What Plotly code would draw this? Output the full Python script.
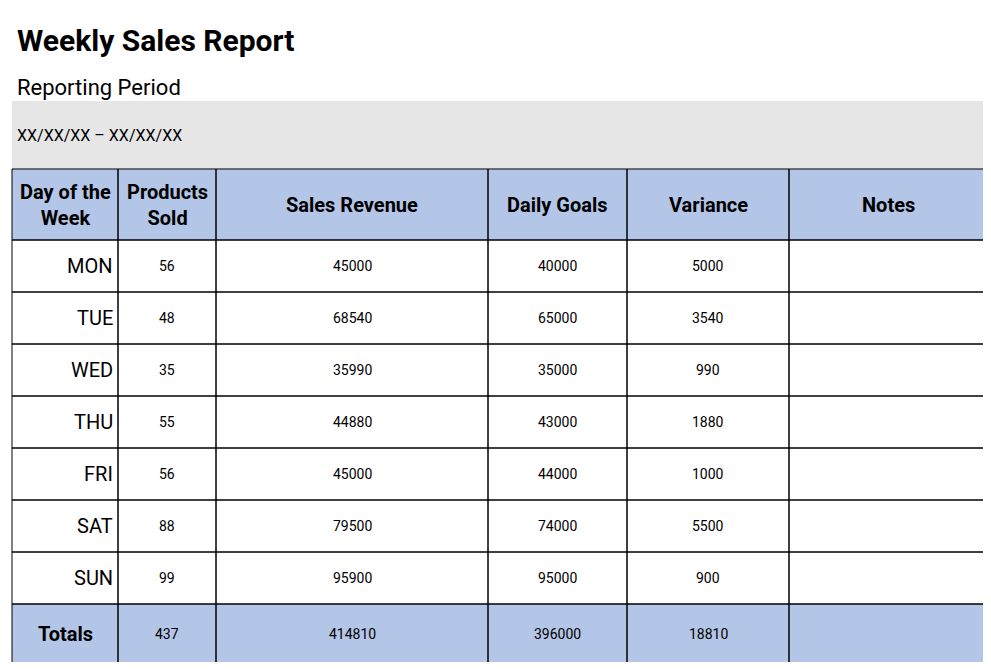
import plotly.graph_objects as go

days = ["MON", "TUE", "WED", "THU", "FRI", "SAT", "SUN"]
products = [56, 48, 35, 55, 56, 88, 99]
revenue = [45000, 68540, 35990, 44880, 45000, 79500, 95900]
goals = [40000, 65000, 35000, 43000, 44000, 74000, 95000]
variance = [5000, 3540, 990, 1880, 1000, 5500, 900]
headers = ["Day of the<br>Week", "Products<br>Sold", "Sales Revenue", "Daily Goals", "Variance", "Notes"]
totals = [437, 414810, 396000, 18810]

OFF = 8
W, H = 991 - 2 * OFF, 670 - 2 * OFF
colx = [12, 118, 216, 488, 627, 789, 987]
rowy = [169, 240, 292, 344, 396, 448, 500, 552, 604, 663]
BLUE = "#b4c6e7"
FONT = "Roboto"

shapes, ann = [], []
def rect(x0, y0, x1, y1, fill=None, lw=1):
    shapes.append(dict(type="rect", xref="x", yref="y", x0=x0, y0=y0, x1=x1, y1=y1,
                       fillcolor=fill if fill else "rgba(0,0,0,0)", line=dict(color="black", width=lw), layer="below" if fill else "above"))
def text(x, y, t, size, bold=False, anchor="center"):
    ann.append(dict(x=x, y=y, xref="x", yref="y", text=f"<b>{t}</b>" if bold else str(t), showarrow=False,
                    xanchor=anchor, yanchor="middle", font=dict(family=FONT, size=size, color="black")))

shapes.append(dict(type="rect", x0=colx[0], x1=colx[-1], y0=101, y1=169, fillcolor="#e6e6e6", line=dict(width=0), layer="below"))
text(15, 40, "Weekly Sales Report", 30, True, "left")
text(15, 87, "Reporting Period", 22, False, "left")
text(15, 135, "XX/XX/XX – XX/XX/XX", 16, False, "left")

rect(colx[0], rowy[0], colx[-1], rowy[1], BLUE, 0)
rect(colx[0], rowy[8], colx[-1], rowy[9], BLUE, 0)
for r in range(len(rowy) - 1):
    for c in range(len(colx) - 1):
        rect(colx[c], rowy[r], colx[c + 1], rowy[r + 1])
cx = [(colx[i] + colx[i + 1]) / 2 for i in range(len(colx) - 1)]
for c, h in enumerate(headers):
    text(cx[c], (rowy[0] + rowy[1]) / 2, h, 20, True)
for i, d in enumerate(days):
    y = (rowy[i + 1] + rowy[i + 2]) / 2
    text(colx[1] - 3, y, d, 20, False, "right")
    for c, v in zip(range(1, 5), [products[i], revenue[i], goals[i], variance[i]]):
        text(cx[c], y, v, 14)
yt = (rowy[8] + rowy[9]) / 2
text(cx[0], yt, "Totals", 20, True)
for c, v in zip(range(1, 5), totals):
    text(cx[c], yt, v, 14)
shapes.append(dict(type="rect", x0=5, x1=989, y0=5, y1=665, line=dict(color="black", width=2), fillcolor="rgba(0,0,0,0)"))

fig = go.Figure()
fig.update_layout(width=W, height=H, margin=dict(l=0, r=0, t=0, b=0), plot_bgcolor="white", paper_bgcolor="white",
                  shapes=shapes, annotations=ann,
                  xaxis=dict(range=[OFF, OFF + W], visible=False, fixedrange=True),
                  yaxis=dict(range=[OFF + H, OFF], visible=False, fixedrange=True))
fig.write_html("out.html", config={"displayModeBar": False})
